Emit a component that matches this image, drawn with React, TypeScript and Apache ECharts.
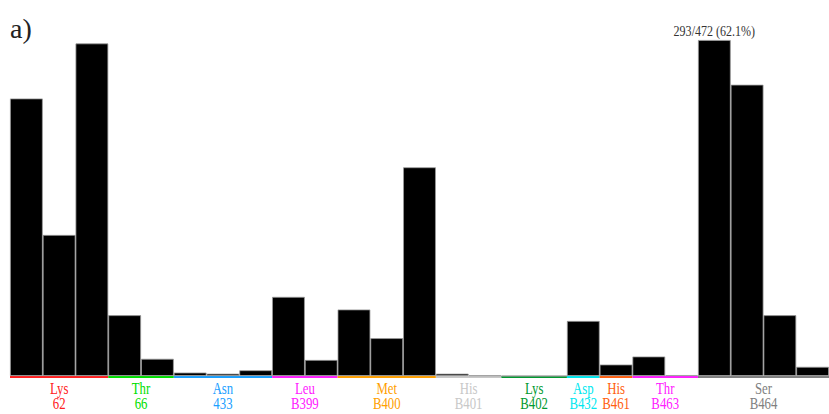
import React, { useEffect, useRef } from "react";
import * as echarts from "echarts";

const barValues = [242, 123, 290, 53, 15, 3, 2, 5, 69, 14, 58, 33, 182, 2, 0.6, 0, 0, 48, 10, 17, 0.8, 293, 254, 53, 8];
const barColors = ["#000", "#000", "#000", "#000", "#000", "#000", "#000", "#000", "#000", "#000", "#000", "#000", "#000", "#000", "#d0d0d0", "#000", "#000", "#000", "#000", "#000", "#000", "#000", "#000", "#000", "#000"];
const topLabelIndex = 21;
const topLabelText = "293/472 (62.1%)";

const groupNames = ["Lys", "Thr", "Asn", "Leu", "Met", "His", "Lys", "Asp", "His", "Thr", "Ser"];
const groupNumbers = ["62", "66", "433", "B399", "B400", "B401", "B402", "B432", "B461", "B463", "B464"];
const groupStarts = [0, 3, 5, 8, 10, 13, 15, 17, 18, 19, 21];
const groupEnds = [3, 5, 8, 10, 13, 15, 17, 18, 19, 21, 25];
const groupColors = ["#ff2020", "#00e000", "#1aa0ff", "#ff20ff", "#ffa000", "#c8c8c8", "#009a30", "#00e8f0", "#ff6010", "#ff20ff", "#808080"];

const FONT = "'Liberation Serif', serif";

export default function App() {
  const ref = useRef<HTMLDivElement>(null);
  useEffect(() => {
    if (!ref.current) return;
    const chart = echarts.init(ref.current, null, { renderer: "svg" });
    const cats = barValues.map((_, i) => String(i + 1));
    const groups = groupNames.map((n, i) => [groupStarts[i], groupEnds[i], i]);
    chart.setOption({
      animation: false,
      backgroundColor: "#fff",
      grid: { left: 10, right: 0, top: 40, bottom: 38 },
      xAxis: [
        { type: "category", data: cats, show: false, boundaryGap: true },
        { type: "value", min: 0, max: 25, show: false },
      ],
      yAxis: { type: "value", min: 0, max: 293, show: false },
      graphic: [
        {
          type: "text",
          left: 10,
          top: 14,
          style: { text: "a)", font: `28px ${FONT}`, fill: "#222" },
        },
      ],
      series: [
        {
          type: "bar",
          barCategoryGap: "0%",
          data: barValues.map((v, i) => ({
            value: v,
            itemStyle: { color: barColors[i] },
          })),
          itemStyle: { borderColor: "#9a9a9a", borderWidth: 0.8 },
        },
        {
          type: "custom",
          xAxisIndex: 1,
          yAxisIndex: 0,
          data: [[topLabelIndex + 0.5, barValues[topLabelIndex]]],
          renderItem: (params: any, api: any) => {
            const p = api.coord([api.value(0), api.value(1)]);
            return {
              type: "text",
              x: p[0],
              y: p[1] - 2,
              scaleX: 0.86,
              style: {
                text: topLabelText,
                fill: "#333",
                font: `14px ${FONT}`,
                textAlign: "center",
                textVerticalAlign: "bottom",
              },
            };
          },
        },
        {
          type: "custom",
          xAxisIndex: 1,
          yAxisIndex: 0,
          data: groups,
          renderItem: (params: any, api: any) => {
            const s = api.value(0);
            const e = api.value(1);
            const idx = api.value(2);
            const p0 = api.coord([s, 0]);
            const p1 = api.coord([e, 0]);
            const cx = (p0[0] + p1[0]) / 2;
            const y = p0[1] + 1;
            const col = groupColors[idx];
            return {
              type: "group",
              children: [
                {
                  type: "line",
                  shape: { x1: p0[0], y1: y, x2: p1[0], y2: y },
                  style: { stroke: col, lineWidth: 2 },
                },
                {
                  type: "text",
                  x: cx,
                  y: y + 3,
                  scaleX: 0.8,
                  style: {
                    text: groupNames[idx],
                    fill: col,
                    font: `16px ${FONT}`,
                    textAlign: "center",
                    textVerticalAlign: "top",
                  },
                },
                {
                  type: "text",
                  x: cx,
                  y: y + 18,
                  scaleX: 0.8,
                  style: {
                    text: groupNumbers[idx],
                    fill: col,
                    font: `16px ${FONT}`,
                    textAlign: "center",
                    textVerticalAlign: "top",
                  },
                },
              ],
            };
          },
        },
      ],
    });
    return () => chart.dispose();
  }, []);
  return (
    <div
      ref={ref}
      style={{ position: "fixed", left: 0, top: 0, width: 829, height: 414, background: "#fff" }}
    />
  );
}
